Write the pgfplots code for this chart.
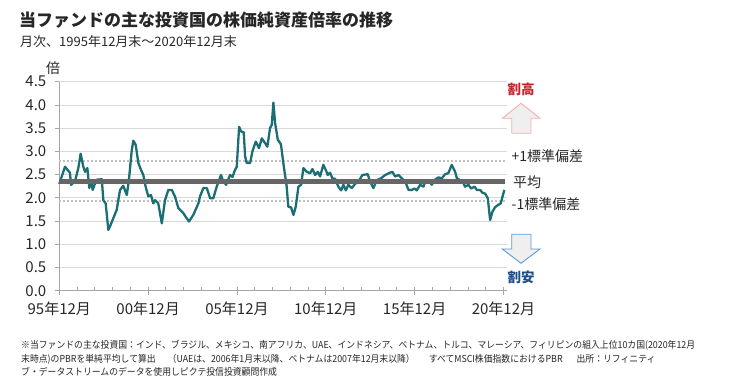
\documentclass[border=0pt]{standalone}
\usepackage{fontspec}
\setmainfont{Noto Sans CJK JP}
\newfontfamily\footfont[FakeStretch=0.92]{Noto Sans CJK JP}
\usepackage{pgfplots}
\pgfplotsset{compat=1.18}
\definecolor{pbr}{HTML}{1B6E73}
\definecolor{meangray}{HTML}{666666}
\definecolor{dotgray}{HTML}{C0C0C0}
\definecolor{gridgray}{HTML}{D9D9D9}
\definecolor{axgray}{HTML}{A6A6A6}
\definecolor{hired}{HTML}{C0282D}
\definecolor{lowblue}{HTML}{1F4E8C}
\definecolor{uppink}{HTML}{F2AFAF}
\definecolor{downblue}{HTML}{5B9BD5}
\definecolor{arrowfill}{HTML}{EFEFEF}
\definecolor{txt}{HTML}{262626}
\begin{document}
\begin{tikzpicture}
\useasboundingbox (0pt,0pt) rectangle (733pt,387pt);
\begin{axis}[
  at={(59.3pt,96.3pt)}, anchor=origin,
  scale only axis, width=447.7pt, height=209pt,
  xmin=0, xmax=25.2, ymin=0, ymax=4.5,
  axis x line=bottom, axis y line=left,
  axis line style={draw=axgray, line width=0.8pt, -},
  tick style={draw=axgray, line width=0.8pt},
  tick align=outside,
  major tick length=4.5pt, minor tick length=4pt,
  every minor x tick/.append style={yshift=4pt},
  xtick={0,5,10,15,20,25},
  minor xtick={0,1,2,3,4,5,6,7,8,9,10,11,12,13,14,15,16,17,18,19,20,21,22,23,24,25},
  xticklabels={95年12月,00年12月,05年12月,10年12月,15年12月,20年12月},
  ytick={0,0.5,1,1.5,2,2.5,3,3.5,4,4.5},
  ymajorgrids, grid style={draw=gridgray, line width=0.8pt},
  /pgf/number format/assume math mode=true,
  /pgf/number format/fixed, /pgf/number format/fixed zerofill, /pgf/number format/precision=1,
  yticklabel style={font=\fontsize{15}{17}\selectfont, text=txt, xshift=-5pt},
  xticklabel style={font=\fontsize{15}{17}\selectfont, text=txt, yshift=-3pt},
  clip=false,
]
\addplot[draw=dotgray, line width=1.8pt, dash pattern=on 1.8pt off 2.2pt] coordinates {(0,2.79) (25.1,2.79)};
\addplot[draw=dotgray, line width=1.8pt, dash pattern=on 1.8pt off 2.2pt] coordinates {(0,1.93) (25.1,1.93)};
\addplot[draw=pbr, line width=2.3pt, line join=round, mark=none] coordinates {
(0.00,2.30) (0.32,2.67) (0.47,2.60) (0.60,2.54) (0.66,2.28) (0.88,2.35) (1.07,2.64) (1.20,2.95) (1.35,2.67) (1.45,2.56) (1.58,2.64) (1.69,2.21) (1.78,2.37) (1.88,2.17) (2.01,2.31) (2.11,2.39) (2.39,2.40) (2.48,1.95) (2.61,1.88) (2.76,1.31) (2.85,1.38) (3.04,1.56) (3.23,1.74) (3.42,2.17) (3.60,2.26) (3.80,2.06) (3.92,2.39) (4.08,3.03) (4.17,3.23) (4.30,3.14) (4.45,2.75) (4.60,2.60) (4.73,2.49) (4.86,2.24) (5.01,2.03) (5.16,2.06) (5.29,1.88) (5.39,1.95) (5.57,1.88) (5.77,1.45) (5.95,1.95) (6.14,2.17) (6.33,2.17) (6.51,2.03) (6.70,1.78) (6.98,1.67) (7.17,1.56) (7.30,1.49) (7.54,1.63) (7.83,1.88) (7.92,2.03) (8.11,2.21) (8.30,2.21) (8.49,1.99) (8.67,1.99) (8.86,2.24) (9.10,2.49) (9.23,2.35) (9.39,2.28) (9.61,2.49) (9.75,2.45) (9.89,2.60) (9.99,2.67) (10.12,3.53) (10.23,3.43) (10.38,3.41) (10.46,2.89) (10.55,2.75) (10.74,2.75) (10.87,3.00) (11.06,3.21) (11.24,3.07) (11.40,3.28) (11.58,3.18) (11.71,3.10) (11.86,3.50) (11.96,3.57) (12.05,4.05) (12.15,3.60) (12.30,3.25) (12.43,3.18) (12.48,3.14) (12.61,2.75) (12.80,2.24) (12.89,1.81) (13.05,1.79) (13.18,1.63) (13.31,1.81) (13.46,2.24) (13.61,2.28) (13.74,2.64) (13.93,2.56) (14.12,2.53) (14.25,2.62) (14.40,2.49) (14.55,2.56) (14.68,2.46) (14.86,2.71) (15.00,2.60) (15.11,2.49) (15.24,2.54) (15.37,2.42) (15.52,2.41) (15.71,2.24) (15.86,2.16) (15.99,2.28) (16.13,2.16) (16.27,2.28) (16.46,2.21) (16.65,2.30) (16.84,2.35) (17.06,2.49) (17.36,2.51) (17.49,2.35) (17.68,2.21) (17.87,2.38) (18.11,2.42) (18.34,2.49) (18.62,2.54) (18.75,2.56) (18.90,2.46) (19.09,2.49) (19.28,2.42) (19.47,2.35) (19.66,2.17) (19.84,2.17) (19.99,2.20) (20.12,2.16) (20.31,2.28) (20.50,2.24) (20.59,2.35) (20.78,2.38) (20.97,2.28) (21.11,2.38) (21.34,2.44) (21.53,2.42) (21.72,2.51) (21.90,2.53) (22.09,2.71) (22.28,2.56) (22.38,2.42) (22.56,2.38) (22.69,2.36) (22.84,2.24) (23.03,2.28) (23.18,2.20) (23.37,2.24) (23.50,2.17) (23.69,2.17) (23.81,2.11) (23.97,2.09) (24.12,1.99) (24.25,1.52) (24.38,1.70) (24.53,1.80) (24.72,1.85) (24.85,1.88) (24.93,2.00) (25.05,2.17)
};
\addplot[draw=meangray, line width=4.5pt] coordinates {(0,2.35) (25.1,2.35)};
\end{axis}
\begin{scope}[x=1pt,y=1pt]
\node[anchor=west, inner sep=0, text=txt, font=\fontsize{17}{20}\selectfont\bfseries] at (19,367) {当ファンドの主な投資国の株価純資産倍率の推移};
\node[anchor=west, inner sep=0, text=txt, font=\fontsize{13}{15}\selectfont] at (20,345) {月次、1995年12月末～2020年12月末};
\node[inner sep=0, text=txt, font=\fontsize{14}{16}\selectfont] at (53,319) {倍};
% right-side annotations
\node[inner sep=0, text=hired, font=\fontsize{13.5}{15}\selectfont\bfseries] at (521,297.7) {割高};
\draw[draw=uppink, fill=arrowfill, line width=0.9pt, line join=miter]
  (521,283.7) -- (540,268.7) -- (531,268.7) -- (531,253.7) -- (511.7,253.7) -- (511.7,268.7) -- (502.3,268.7) -- cycle;
\node[anchor=west, inner sep=0, text=txt, font=\fontsize{14}{16}\selectfont] at (511.5,231) {+1標準偏差};
\node[anchor=west, inner sep=0, text=txt, font=\fontsize{14}{16}\selectfont] at (513,205) {平均};
\node[anchor=west, inner sep=0, text=txt, font=\fontsize{14}{16}\selectfont] at (511.5,183) {-1標準偏差};
\draw[draw=downblue, fill=arrowfill, line width=0.9pt, line join=miter]
  (511.7,152.7) -- (531,152.7) -- (531,138) -- (540,138) -- (521,123.7) -- (502.3,138) -- (511.7,138) -- cycle;
\node[inner sep=0, text=lowblue, font=\fontsize{13.5}{15}\selectfont\bfseries] at (521,110) {割安};
% footnote
\node[anchor=west, inner sep=0, text=txt, font=\footfont\fontsize{9.6}{11}\selectfont] at (21,41.2) {※当ファンドの主な投資国：インド、ブラジル、メキシコ、南アフリカ、UAE、インドネシア、ベトナム、トルコ、マレーシア、フィリピンの組入上位10カ国(2020年12月};
\node[anchor=west, inner sep=0, text=txt, font=\footfont\fontsize{9.6}{11}\selectfont] at (21,27.2) {末時点)のPBRを単純平均して算出\hspace{12pt}（UAEは、2006年1月末以降、ベトナムは2007年12月末以降）\hspace{14pt}すべてMSCI株価指数におけるPBR\hspace{14pt}出所：リフィニティ};
\node[anchor=west, inner sep=0, text=txt, font=\footfont\fontsize{9.6}{11}\selectfont] at (21,15) {ブ・データストリームのデータを使用しピクテ投信投資顧問作成};
\end{scope}
\end{tikzpicture}
\end{document}
